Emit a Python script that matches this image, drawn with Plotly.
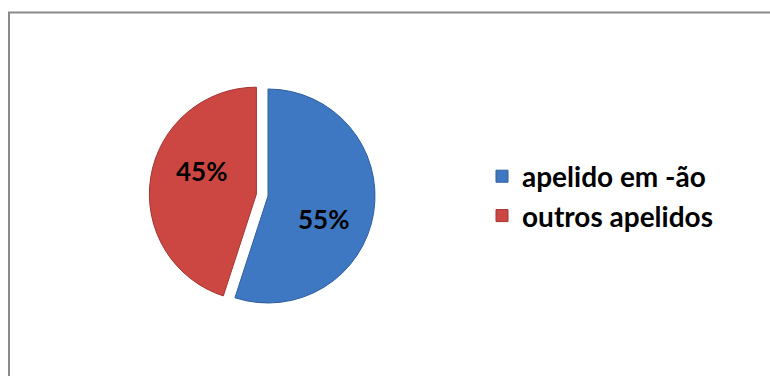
import math
import plotly.graph_objects as go

# Data
categories = ["apelido em -ão", "outros apelidos"]
values = [55, 45]
slice_colors = ["#3e78c2", "#cd4742"]
edge_colors = ["#2f5f9c", "#a33431"]
pulls = [0, 0.11]

W, H = 770, 376
FONT = "Lato"

total = sum(values)
pct_text = [f"{v / total * 100:.0f}%" for v in values]

# Pie placement (pixels): centre and radius of the un-pulled pie
cx, cy, r = 268, 196, 107
half = r * (1 + max(pulls))
dom_x = [(cx - half) / W, (cx + half) / W]
dom_y = [1 - (cy + half) / H, 1 - (cy - half) / H]

fig = go.Figure(
    go.Pie(
        labels=categories,
        values=values,
        sort=False,
        direction="clockwise",
        rotation=0,
        pull=pulls,
        marker=dict(colors=slice_colors, line=dict(color=edge_colors, width=1)),
        textinfo="none",
        hoverinfo="label+percent",
        domain=dict(x=dom_x, y=dom_y),
    )
)

# Percentage labels, placed inside each slice (clockwise angle from 12 o'clock)
annotations = []
start = 0.0
for v, p, txt in zip(values, pulls, pct_text):
    sweep = v / total * 360
    mid = math.radians(start + sweep / 2)
    # slice centre after pulling it out
    scx = cx + p * r * math.sin(mid)
    scy = cy - p * r * math.cos(mid)
    ang = mid + math.radians(14)
    lx = scx + 0.56 * r * math.sin(ang)
    ly = scy - 0.56 * r * math.cos(ang)
    annotations.append(
        dict(
            x=lx / W, y=1 - ly / H, xref="paper", yref="paper",
            text=txt, showarrow=False,
            font=dict(family=FONT, size=26, color="#000000", weight="bold"),
            xanchor="center", yanchor="middle",
        )
    )
    start += sweep

# Chart frame (top and left edges)
frame = dict(color="#8a8a8a", width=2)
shapes = [
    dict(type="line", xref="paper", yref="paper",
         x0=8 / W, x1=1.0, y0=1 - 12.5 / H, y1=1 - 12.5 / H, line=frame),
    dict(type="line", xref="paper", yref="paper",
         x0=9 / W, x1=9 / W, y0=1 - 12 / H, y1=0, line=frame),
]

fig.update_layout(
    width=W,
    height=H,
    margin=dict(l=0, r=0, t=0, b=0),
    paper_bgcolor="#ffffff",
    plot_bgcolor="#ffffff",
    showlegend=True,
    legend=dict(
        x=482 / W, xanchor="left",
        y=1 - 196 / H, yanchor="middle",
        font=dict(family=FONT, size=28, color="#000000", weight="bold"),
        bgcolor="rgba(0,0,0,0)",
        borderwidth=0,
    ),
    annotations=annotations,
    shapes=shapes,
)

fig.write_html("out.html")
